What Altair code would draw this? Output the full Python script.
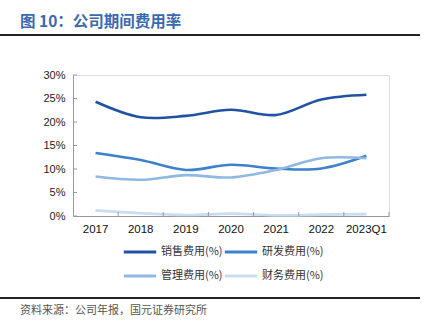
import altair as alt
import pandas as pd

years = ["2017", "2018", "2019", "2020", "2021", "2022", "2023Q1"]
series_names = ["销售费用(%)", "研发费用(%)", "管理费用(%)", "财务费用(%)"]
sales = [0.243, 0.210, 0.213, 0.226, 0.215, 0.248, 0.258]
rnd = [0.134, 0.119, 0.098, 0.109, 0.101, 0.101, 0.128]
admin = [0.084, 0.077, 0.087, 0.082, 0.098, 0.123, 0.123]
finance = [0.012, 0.006, 0.002, 0.005, 0.0015, 0.003, 0.004]
y_ticks = [0, 0.05, 0.10, 0.15, 0.20, 0.25, 0.30]
colors = ["#1f52a3", "#3d80cc", "#8fb9e3", "#c8ddf2"]

rows = []
for name, vals in zip(series_names, [sales, rnd, admin, finance]):
    for y, v in zip(years, vals):
        rows.append({"year": y, "series": name, "value": v})
df = pd.DataFrame(rows)

W, H = 316, 141
FONT = "Liberation Sans"
CJK = "Noto Sans CJK SC"

yaxis = alt.Axis(values=y_ticks, format=".0%", ticks=False, grid=False,
                 labelOverlap=False, domainColor="#999999", labelFont=FONT,
                 labelFontSize=11, labelColor="#222222", labelPadding=8)
yscale = alt.Scale(domain=[0, 0.3], nice=False)
xaxis = alt.Axis(labelAngle=0, ticks=False, domainColor="#999999",
                 labelFont=FONT, labelFontSize=11.5, labelColor="#111111",
                 labelPadding=7, labelOverlap=False)
xscale = alt.Scale(domain=years, paddingInner=0, paddingOuter=0)

lines = alt.Chart(df).mark_line(interpolate="catmull-rom", strokeWidth=2.6).encode(
    x=alt.X("year:N", sort=years, bandPosition=0.5, title=None, scale=xscale, axis=xaxis),
    y=alt.Y("value:Q", title=None, scale=yscale, axis=yaxis),
    color=alt.Color("series:N", sort=series_names,
                    scale=alt.Scale(domain=series_names, range=colors),
                    legend=alt.Legend(title=None, orient="none", legendX=49, legendY=159,
                                      direction="horizontal",
                                      columns=2, symbolType="stroke", symbolSize=1050,
                                      symbolStrokeWidth=3, labelFont=CJK, labelFontSize=11,
                                      labelColor="#333333", columnPadding=-5, rowPadding=-17,
                                      labelOffset=3)),
    order=alt.Order("year:N"),
)

ytick_df = pd.DataFrame({"value": y_ticks})
yticks = alt.Chart(ytick_df).mark_rule(color="#999999", strokeWidth=1).encode(
    y=alt.Y("value:Q", title=None, scale=yscale, axis=yaxis), x=alt.value(0), x2=alt.value(4))

xtick_df = pd.DataFrame({"year": years[1:]})
xticks = alt.Chart(xtick_df).mark_rule(color="#999999", strokeWidth=1).encode(
    x=alt.X("year:N", sort=years, bandPosition=0, title=None, scale=xscale, axis=xaxis),
    y=alt.value(H - 4), y2=alt.value(H))
xtick_end = alt.Chart(alt.Data(values=[{}])).mark_rule(color="#999999").encode(
    x=alt.value(W), y=alt.value(H - 4), y2=alt.value(H))

title = alt.Chart(alt.Data(values=[{}])).mark_text(
    align="left", baseline="alphabetic", font=CJK, fontSize=15.5, fontWeight="bold",
    color="#3a69ad").encode(x=alt.value(-53), y=alt.value(-48), text=alt.value("图 10：公司期间费用率"))
top_rule = alt.Chart(alt.Data(values=[{}])).mark_rule(color="#222222", strokeWidth=2).encode(
    x=alt.value(-73), x2=alt.value(347), y=alt.value(-40))
bot_rule = alt.Chart(alt.Data(values=[{}])).mark_rule(color="#222222", strokeWidth=2).encode(
    x=alt.value(-73), x2=alt.value(347), y=alt.value(223))
source = alt.Chart(alt.Data(values=[{}])).mark_text(
    align="left", baseline="middle", font=CJK, fontSize=11, color="#555555").encode(
    x=alt.value(-53), y=alt.value(236), text=alt.value("资料来源：公司年报，国元证券研究所"))

chart = alt.layer(lines, yticks, xticks, xtick_end, title, top_rule, bot_rule, source).properties(
    width=W, height=H,
    autosize=alt.AutoSizeParams(type="none"),
    padding={"left": 73, "top": 75, "right": 44, "bottom": 115},
).configure_view(stroke=None).configure(background="white")

chart.save("out.html", embed_options={"renderer": "svg", "actions": False})
